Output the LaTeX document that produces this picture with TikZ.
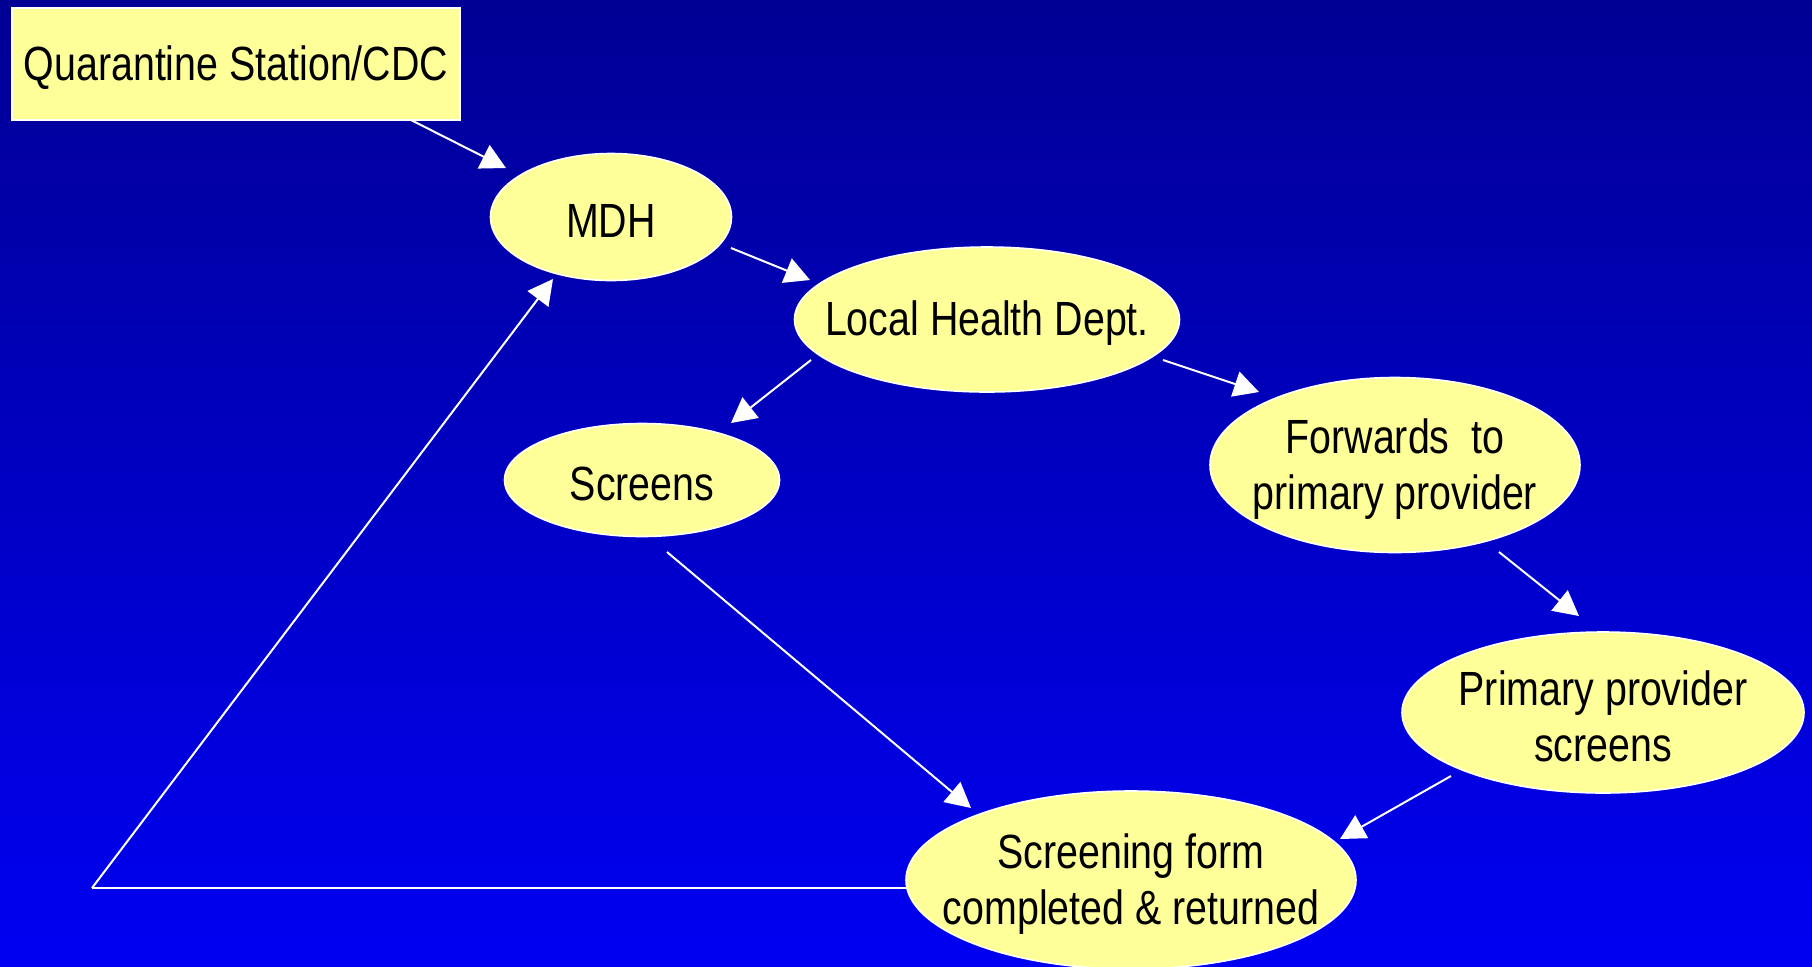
\documentclass[tikz,border=0pt]{standalone}
\usepackage{fontspec}
\setmainfont[FakeStretch=0.82]{Liberation Sans}
\usetikzlibrary{shapes.geometric,arrows.meta}
\definecolor{bgtop}{RGB}{0,0,148}
\definecolor{bgbot}{RGB}{0,0,242}
\definecolor{boxfill}{RGB}{255,255,153}
\begin{document}
\begin{tikzpicture}[x=0.5pt,y=-0.5pt,
  lbl/.style={font=\fontsize{24}{28}\selectfont, text=black, align=center, yshift=-2pt, inner sep=0pt},
  oval/.style={ellipse, draw=white, line width=0.8pt, fill=boxfill, inner sep=0pt},
  rbox/.style={rectangle, draw=white, line width=0.8pt, fill=boxfill, inner sep=0pt},
  arr/.style={draw=white, line width=1pt, -{Triangle[length=12.5pt,width=13pt]}},
  ln/.style={draw=white, line width=1.2pt}]
\useasboundingbox (0,0) rectangle (1812,966);
\shade[top color=bgtop,bottom color=bgbot] (0,0) rectangle (1812,966);

\node[rbox, minimum width=224pt, minimum height=56pt, label={[lbl]center:Quarantine Station/CDC}] (q) at (236,64) {};
\node[oval, minimum width=120.5pt, minimum height=63.5pt, label={[lbl]center:MDH}] (mdh) at (611,217) {};
\node[oval, minimum width=192.5pt, minimum height=72.5pt, label={[lbl]center:Local Health Dept.}] (lhd) at (987,319.5) {};
\node[oval, minimum width=137.5pt, minimum height=56.5pt, label={[lbl]center:Screens}] (scr) at (642,480) {};
\node[oval, minimum width=185pt, minimum height=87.5pt, label={[lbl]center:{Forwards\ \ to\\primary provider}}] (fwd) at (1395,465) {};
\node[oval, minimum width=201pt, minimum height=80.5pt, label={[lbl]center:{Primary provider\\screens}}] (pps) at (1603,712.5) {};
\node[oval, minimum width=225pt, minimum height=89pt, label={[lbl]center:{Screening form\\completed \& returned}}] (sf) at (1131,880) {};
\coordinate (corner) at (92,888);

\draw[arr] ([shift={(175,56)}]q.center) -- ([shift={(-105,-49)}]mdh.center);
\draw[arr] ([shift={(120,31)}]mdh.center) -- ([shift={(-177,-39.5)}]lhd.center);
\draw[arr] ([shift={(-176,40.5)}]lhd.center) -- ([shift={(89,-57)}]scr.center);
\draw[arr] ([shift={(176,40.5)}]lhd.center) -- ([shift={(-136,-73)}]fwd.center);
\draw[arr] ([shift={(104,87)}]fwd.center) -- ([shift={(-24,-96.5)}]pps.center);
\draw[arr] ([shift={(25,72)}]scr.center) -- ([shift={(-160,-72)}]sf.center);
\draw[arr] ([shift={(-152,63.5)}]pps.center) -- ([shift={(209,-41)}]sf.center);
\draw[ln] ([shift={(-225,8)}]sf.center) -- (corner);
\draw[arr] (corner) -- ([shift={(-58,62)}]mdh.center);
\end{tikzpicture}
\end{document}
